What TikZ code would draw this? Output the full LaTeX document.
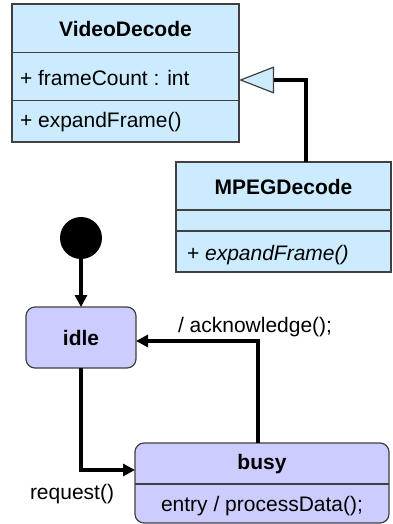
\documentclass[tikz,border=0pt]{standalone}
\usepackage{fontspec}
\setmainfont{Liberation Sans}
\usetikzlibrary{arrows.meta}
\definecolor{classfill}{RGB}{204,235,255}
\definecolor{statefill}{RGB}{204,204,255}
\definecolor{edgegray}{RGB}{64,64,64}

\begin{document}
\begin{tikzpicture}[x=1pt,y=-1pt,
  every node/.style={font=\fontsize{21}{25}\selectfont, inner sep=0pt, outer sep=0pt},
  bold/.style={font=\fontsize{21}{25}\selectfont\bfseries},
  classbox/.style={draw=edgegray, line width=1.2pt, fill=classfill, rectangle},
  statebox/.style={draw=edgegray, line width=1.2pt, fill=statefill, rectangle, rounded corners=9pt},
  divider/.style={draw=edgegray, line width=1.2pt},
  trans/.style={draw=black, line width=4pt, -{Triangle[length=12pt, width=12pt]}},
  gen/.style={draw=black, line width=4pt,
    -{Triangle[open, length=35pt, width=27pt, line width=1.2pt, fill=classfill, color=edgegray]}},
  initial/.style={circle, fill=black, minimum size=42pt}
]
\useasboundingbox (0,0) rectangle (392,524);

% class VideoDecode
\node[classbox, minimum width=227pt, minimum height=138pt] (vd) at (125.5,73) {};
\draw[divider] (vd.west |- 0,52.5) -- (vd.east |- 0,52.5);
\draw[divider] (vd.west |- 0,100.5) -- (vd.east |- 0,100.5);
\node[bold, anchor=base] (vdName) at (125.5,37) {VideoDecode};
\node[anchor=base west] (vdAttr) at (20,86) {+ frameCount : int};
\node[anchor=base west] (vdOp) at (20,128) {+ expandFrame()};

% class MPEGDecode
\node[classbox, minimum width=215pt, minimum height=110pt] (mp) at (283.5,217) {};
\draw[divider] (mp.west |- 0,210) -- (mp.east |- 0,210);
\draw[divider] (mp.west |- 0,231) -- (mp.east |- 0,231);
\node[bold, anchor=base] (mpName) at (283.5,194) {MPEGDecode};
\node[anchor=base west] (mpOp) at (187,260) {+ \itshape expandFrame()};

% generalization
\coordinate (genTurn) at (306,80);
\draw[gen] (mp.north -| genTurn) -- (genTurn) -- (vd.east |- genTurn);

% state machine
\node[initial] (init) at (81,238) {};
\node[statebox, minimum width=110pt, minimum height=61pt] (idle) at (81,337.5) {};
\node[bold, anchor=base] (idleName) at (81,345) {idle};
\node[statebox, minimum width=254pt, minimum height=80pt] (busy) at (262,483) {};
\draw[divider] (busy.west |- 0,484) -- (busy.east |- 0,484);
\node[bold, anchor=base] (busyName) at (262,469) {busy};
\node[anchor=base] (busyEntry) at (262,511) {entry / processData();};

\draw[trans] (init) -- (idle);

\coordinate (reqTurn) at (81,470);
\draw[trans] (idle.south) -- (reqTurn) -- (busy.west |- reqTurn);
\node[anchor=base west] (reqLabel) at (30,499) {request()};

\coordinate (ackTurn) at (258,341);
\draw[trans] (busy.north -| ackTurn) -- (ackTurn) -- (idle.east |- ackTurn);
\node[anchor=base west] (ackLabel) at (178,332) {/ acknowledge();};
\end{tikzpicture}
\end{document}
